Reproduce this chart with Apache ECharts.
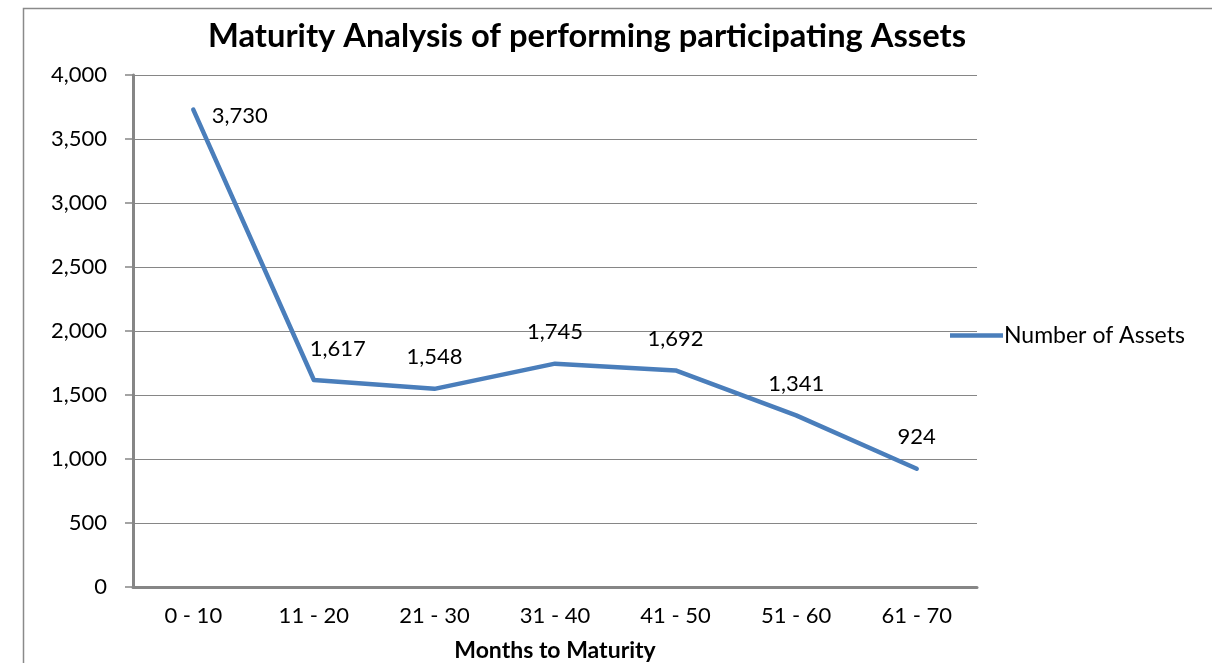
<!DOCTYPE html>
<html>
<head>
<meta charset="utf-8">
<script src="https://cdn.jsdelivr.net/npm/echarts@6/dist/echarts.min.js"></script>
<style>
html,body{margin:0;padding:0;background:#fff;}
#c{width:1212px;height:663px;}
</style>
</head>
<body>
<div id="c"></div>
<script>
const categories = ['0 - 10', '11 - 20', '21 - 30', '31 - 40', '41 - 50', '51 - 60', '61 - 70'];
const assetCounts = [3730, 1617, 1548, 1745, 1692, 1341, 924];
const seriesName = 'Number of Assets';
const yTicks = { min: 0, max: 4000, interval: 500 };

const FONT = 'Lato, Carlito, "Open Sans", sans-serif';
const AX = '#868686';
const BLUE = '#4a7ebb';

const data = assetCounts.map((v, i) => {
  const d = { value: v };
  if (i === 0) d.label = { position: [19, -4], align: 'left', verticalAlign: 'top' };
  if (i === 1) d.label = { padding: [0, 0, 0, 48] };
  return d;
});

const chart = echarts.init(document.getElementById('c'), null, { renderer: 'canvas' });
chart.setOption({
  backgroundColor: '#fff',
  animation: false,
  graphic: [{
    type: 'rect', left: 21, top: 6,
    shape: { width: 1300, height: 800 },
    style: { fill: 'none', stroke: '#8a8a8a', lineWidth: 1.5 },
    silent: true
  }],
  title: {
    text: 'Maturity Analysis of performing participating Assets',
    left: 582, top: 15, textAlign: 'center',
    textStyle: { fontFamily: FONT, fontSize: 32.7, fontWeight: 'bold', color: '#000' }
  },
  legend: {
    left: 945, top: 319, orient: 'vertical',
    icon: 'rect', itemWidth: 53, itemHeight: 4.5, itemGap: 0,
    textStyle: { fontFamily: FONT, fontSize: 23, color: '#000', padding: [0,0,0,-4] },
    data: [seriesName]
  },
  grid: { left: 133, right: 235, top: 75, bottom: 76, containLabel: false, outerBoundsMode: 'none' },
  xAxis: {
    type: 'category', data: categories, boundaryGap: true,
    name: 'Months to Maturity', nameLocation: 'middle', nameGap: 52,
    nameTextStyle: { fontFamily: FONT, fontSize: 23, fontWeight: 'bold', color: '#000' },
    axisLine: { lineStyle: { color: AX, width: 3 } },
    axisTick: { alignWithLabel: false, length: 7, lineStyle: { color: AX, width: 2 } },
    axisLabel: { fontFamily: FONT, fontSize: 22, color: '#000', margin: 18 },
    splitLine: { show: false }
  },
  yAxis: {
    type: 'value', min: yTicks.min, max: yTicks.max, interval: yTicks.interval,
    axisLine: { show: true, lineStyle: { color: AX, width: 3 } },
    axisTick: { show: true, length: 8, lineStyle: { color: AX, width: 1.5 } },
    axisLabel: {
      fontFamily: FONT, fontSize: 22, color: '#000', margin: 26,
      formatter: v => v.toLocaleString('en-US')
    },
    splitLine: { show: true, lineStyle: { color: AX, width: 1.2 } }
  },
  series: [{
    name: seriesName, type: 'line', data: data,
    symbol: 'circle', symbolSize: 1, showSymbol: true, smooth: false,
    lineStyle: { color: BLUE, width: 4.5, cap: 'round', join: 'round' },
    itemStyle: { color: BLUE },
    label: {
      show: true, position: 'top', distance: 20,
      fontFamily: FONT, fontSize: 22, color: '#000',
      formatter: p => p.value.toLocaleString('en-US')
    }
  }]
});
</script>
</body>
</html>
